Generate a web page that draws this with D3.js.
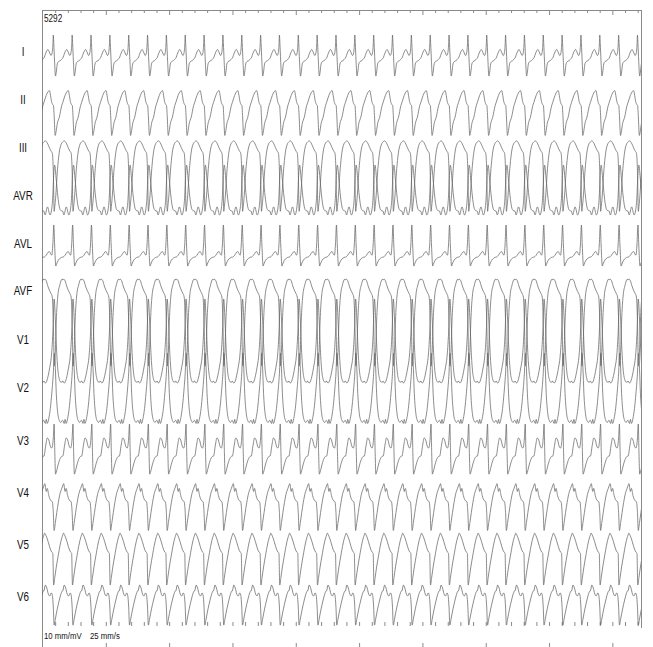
<!DOCTYPE html>
<html><head><meta charset="utf-8">
<script src="https://cdn.jsdelivr.net/npm/d3@7"></script>
<style>
html,body{margin:0;padding:0;background:#fff;}
svg{display:block;}
text{font-family:"Liberation Sans",Arial,sans-serif;fill:#111;}
</style></head><body>
<svg id="c" width="653" height="647"></svg>
<script>
// ---- data ----
const leads = ["I","II","III","AVR","AVL","AVF","V1","V2","V3","V4","V5","V6"];
const recordId = "5292";
const gainLabel = "10 mm/mV";
const speedLabel = "25 mm/s";
const durationSec = 9.46;
// beat fiducial times (s), read from lead I R peaks
const beatTimes = [-0.1191,0.1785,0.4761,0.7737,1.0713,1.3689,1.6665,1.9641,2.2617,2.5593,2.8569,
  3.1545,3.4521,3.7497,4.0473,4.3449,4.6425,4.9401,5.2377,5.5353,5.8329,6.1305,6.4281,6.7257,
  7.0233,7.3209,7.6185,7.9161,8.2137,8.5113,8.8089,9.1065,9.4041];
// beat templates: [ms from fiducial, mV]
const beatI   = [[-148.5,-0.24],[-118.5,-0.04],[-85,0.10],[-63,0],[-36,-0.14],[-19,-0.04],[-6,0.32],[0,0.67],[8,0.32],[19,-0.32],[35,-0.95],[47,-0.79],[63,-0.47],[82,-0.38],[111,-0.34],[142,-0.26]];
const beatII  = [[-148.5,-0.10],[-112,0.18],[-79,0.34],[-60,0.37],[-44,0.18],[-28,-0.06],[-9.5,-0.18],[3,-0.22],[13,-0.61],[30,-1.40],[41,-1.29],[63,-0.93],[95,-0.68],[133,-0.22]];
const beatIII = [[-148.5,0.24],[-126,0.28],[-111,0.26],[-87,0.16],[-63,0.02],[-36,-0.12],[-16,-0.2],[0,-0.9],[14,-2.5],[24,-2.3],[40,-1.86],[63,-0.95],[95,-0.16],[126,0.16]];
const beatAVR = [[-148.5,-0.6],[-131,-0.75],[-92,-0.43],[-52,-0.75],[-28,-0.55],[-10,-0.1],[8,0.9],[22,1.22],[47,0.63],[71,0],[95,-0.43],[118,-0.57]];
const beatAVL = [[-148.5,-0.52],[-111,-0.44],[-79,-0.32],[-60,-0.30],[-40,-0.40],[-24,-0.44],[-8,-0.04],[8,0.75],[21,-0.04],[40,-0.87],[52,-0.79],[79,-0.64],[111,-0.56],[142,-0.52]];
const beatAVF = [[-148.5,0.43],[-134,0.47],[-111,0.4],[-87,0.2],[-63,0.04],[-40,-0.08],[-16,-0.24],[0,-1.19],[16,-2.96],[32,-2.37],[47,-1.19],[71,-0.2],[103,0.24],[126,0.43],[142,0.47]];
const beatV1  = [[-148.5,-1.62],[-126,-1.70],[-103,-1.62],[-79,-1.39],[-55,-1.07],[-32,-0.68],[-8,0.23],[13,1.62],[32,0.83],[51,-0.36],[71,-1.15],[95,-1.55],[118.5,-1.66],[142,-1.66]];
const beatV2  = [[-148.5,-1.28],[-126,-1.40],[-111,-1.24],[-95,-1.40],[-71,-1.20],[-47,-0.81],[-24,-0.21],[0,0.58],[16,1.37],[32,0.78],[47,-0.21],[71,-1.00],[95,-1.28],[118.5,-1.36],[142,-1.28]];
const beatV3  = [[-148.5,-0.60],[-118.5,-0.16],[-95,0.12],[-71,0.04],[-47,-0.20],[-24,-0.28],[0,0.12],[13,0.67],[24,-0.48],[35,-1.31],[47,-1.23],[79,-0.91],[111,-0.68],[142,-0.60]];
const beatV4  = [[-148.5,0.29],[-134,0.37],[-111,0.06],[-95,0.18],[-71,-0.10],[-40,-0.30],[-16,-0.34],[0,-0.77],[13,-1.48],[32,-1.17],[55,-0.77],[79,-0.38],[111,0.02],[134,0.18]];
const beatV5  = [[-148.5,0.39],[-137,0.47],[-118.5,0.39],[-95,0.24],[-71,0.04],[-47,-0.16],[-24,-0.28],[-8,-0.32],[5,-1.58],[24,-1.27],[47,-0.87],[79,-0.40],[111,0.04],[134,0.28]];
const beatV6  = [[-148.5,0.24],[-126,0.47],[-103,0.36],[-79,0.12],[-55,0.04],[-32,0.16],[-16,0.08],[0,-0.4],[13,-1.11],[32,-0.87],[63,-0.47],[95,-0.12],[126,0.16],[142,0.24]];
const templates = {I:beatI,II:beatII,III:beatIII,AVR:beatAVR,AVL:beatAVL,AVF:beatAVF,V1:beatV1,V2:beatV2,V3:beatV3,V4:beatV4,V5:beatV5,V6:beatV6};

// ---- layout ----
const svg = d3.select("#c");
const mLeft = 42, mRight = 641, mTop = 10, frameBottom = 628;
const rowCenters = [52, 100, 148, 196, 244, 291, 340, 388, 441, 493, 545, 597];
const x = d3.scaleLinear().domain([0, durationSec]).range([mLeft, mRight]);
const pxPerMm = (mRight - mLeft) / (durationSec * 25);
const pxPerMv = 10 * pxPerMm;
const row = d3.scaleOrdinal().domain(leads).range(rowCenters);

svg.append("defs").append("clipPath").attr("id","clip")
  .append("rect").attr("x", mLeft).attr("y", 0).attr("width", mRight - mLeft).attr("height", 647);

// frame
const frame = svg.append("g").attr("stroke","#8a8a8a").attr("stroke-width",1).attr("fill","none");
frame.append("line").attr("x1",mLeft+0.5).attr("x2",mLeft+0.5).attr("y1",mTop).attr("y2",647);
frame.append("line").attr("x1",mRight+0.5).attr("x2",mRight+0.5).attr("y1",mTop).attr("y2",frameBottom);
frame.append("line").attr("x1",mLeft).attr("x2",mRight+1).attr("y1",mTop+0.5).attr("y2",mTop+0.5);

// ticks
const minorT = d3.range(0.2, durationSec, 0.2).filter(t => Math.abs(t - Math.round(t)) > 1e-6);
const majorT = d3.range(1, durationSec, 1);
function styleAxis(g){ g.select(".domain").remove(); g.selectAll("line").attr("stroke","#8a8a8a"); }
svg.append("g").attr("transform",`translate(0.5,${mTop})`)
  .call(d3.axisBottom(x).tickValues(minorT).tickSize(3).tickSizeOuter(0).tickFormat("")).call(styleAxis);
svg.append("g").attr("transform",`translate(0.5,${mTop})`)
  .call(d3.axisBottom(x).tickValues(majorT).tickSize(5).tickSizeOuter(0).tickFormat("")).call(styleAxis);
svg.append("g").attr("transform",`translate(0.5,626)`)
  .call(d3.axisTop(x).tickValues(d3.range(0.2, durationSec, 0.2)).tickSize(4).tickSizeOuter(0).tickFormat("")).call(styleAxis);
svg.append("g").attr("transform",`translate(0.5,647)`)
  .call(d3.axisTop(x).tickValues(majorT).tickSize(4).tickSizeOuter(0).tickFormat("")).call(styleAxis);

// traces
const traces = svg.append("g").attr("clip-path","url(#clip)");
leads.forEach(lead => {
  const base = row(lead);
  const y = d3.scaleLinear().domain([0,1]).range([base, base - pxPerMv]);
  const pts = beatTimes.flatMap(bt => templates[lead].map(([ms, mv]) => [bt + ms/1000, mv]));
  const line = d3.line().x(d => x(d[0])).y(d => y(d[1])).curve(d3.curveMonotoneX);
  traces.append("path").datum(pts).attr("d", line)
    .attr("fill","none").attr("stroke","#666").attr("stroke-width",0.75).attr("stroke-linejoin","round");
});

// labels (condensed sans)
function label(txt, px, py, size, anchor){
  svg.append("text").attr("transform",`translate(${px},${py}) scale(0.82,1)`)
    .attr("text-anchor", anchor || "start").attr("font-size", size).text(txt);
}
leads.forEach(l => label(l, 23, row(l) + 4.3, 12, "middle"));
label(recordId, 44, 22, 10);
label(gainLabel, 44, 639, 9.5);
label(speedLabel, 90, 639, 9.5);
</script></body></html>
